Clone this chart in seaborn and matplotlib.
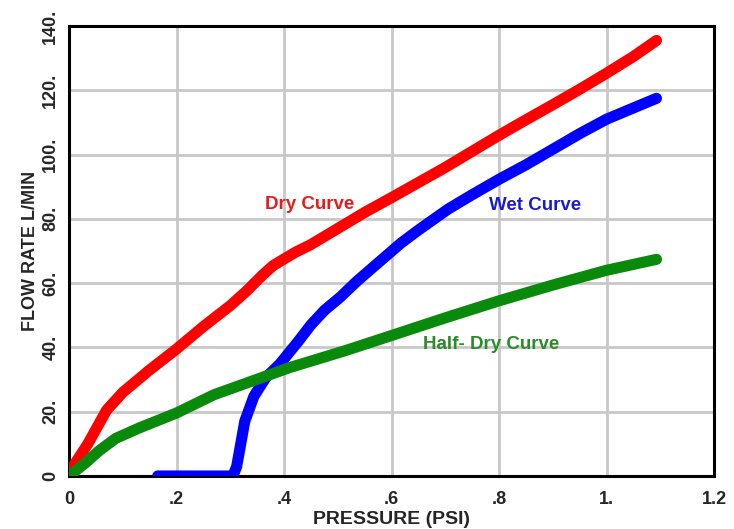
import matplotlib
matplotlib.use("Agg")
import matplotlib.pyplot as plt
import seaborn as sns
import pandas as pd

# ---- data ----
dry_x = [0.0, 0.035, 0.07, 0.10, 0.15, 0.20, 0.25, 0.30, 0.33, 0.36, 0.38, 0.42, 0.45, 0.50, 0.55, 0.60, 0.65,
         0.70, 0.75, 0.80, 0.85, 0.90, 0.95, 1.00, 1.05, 1.093]
dry_y = [1.0, 10.0, 20.5, 26.0, 33.0, 39.5, 46.5, 53.0, 57.5, 62.5, 65.5, 69.5, 72.0, 77.0, 82.0, 86.6, 91.3,
         96.0, 101.0, 106.0, 110.8, 115.5, 120.3, 125.3, 130.5, 135.5]

wet_x = [0.165, 0.305, 0.312, 0.318, 0.327, 0.344, 0.366, 0.392, 0.427, 0.45, 0.475, 0.505, 0.535, 0.566,
         0.618, 0.65, 0.705, 0.75, 0.801, 0.85, 0.914, 0.95, 1.00, 1.05, 1.093]
wet_y = [0.0, 0.0, 3.0, 8.6, 17.0, 24.8, 30.6, 34.8, 42.0, 47.0, 51.5, 55.7, 60.5, 65.0,
         72.5, 76.5, 83.0, 87.5, 92.4, 96.8, 103.0, 106.5, 111.0, 114.5, 117.5]

half_x = [0.0, 0.03, 0.057, 0.087, 0.13, 0.20, 0.27, 0.34, 0.41, 0.514, 0.60, 0.70, 0.80, 0.90, 1.00, 1.093]
half_y = [0.0, 4.0, 8.0, 11.7, 14.9, 19.6, 25.3, 29.5, 33.7, 39.0, 43.7, 49.2, 54.5, 59.4, 64.0, 67.4]

x_ticks = [0, 0.2, 0.4, 0.6, 0.8, 1.0, 1.2]
x_tick_labels = ["0", ".2", ".4", ".6", ".8", "1.", "1.2"]
y_ticks = [0, 20, 40, 60, 80, 100, 120, 140]
y_tick_labels = ["0", "20.", "40.", "60.", "80.", "100.", "120.", "140."]

curve_names = ["Dry Curve", "Wet Curve", "Half- Dry Curve"]
label_x = [0.448, 0.868, 0.786]
label_y = [84.5, 84.3, 40.8]

sns.set_style("white")
plt.rcParams["font.family"] = ["Liberation Sans", "DejaVu Sans"]

fig = plt.figure(figsize=(7.34, 5.29), dpi=100)
ax = fig.add_axes([69 / 734, 1 - 476 / 529, (714 - 69) / 734, (476 - 26) / 529])

df = pd.concat([
    pd.DataFrame({"x": dry_x, "y": dry_y, "curve": curve_names[0]}),
    pd.DataFrame({"x": wet_x, "y": wet_y, "curve": curve_names[1]}),
    pd.DataFrame({"x": half_x, "y": half_y, "curve": curve_names[2]}),
])
line_colors = {"Dry Curve": "#ff0000", "Wet Curve": "#0000ff", "Half- Dry Curve": "#0a8a0a"}
text_colors = ["#e51c1c", "#1c1ccf", "#2b8a2b"]

for name in curve_names:
    sub = df[df["curve"] == name]
    sns.lineplot(data=sub, x="x", y="y", ax=ax, color=line_colors[name], linewidth=8,
                 estimator=None, sort=False, solid_capstyle="round", solid_joinstyle="round",
                 zorder=3)

for name, lx, ly, c in zip(curve_names, label_x, label_y, text_colors):
    ax.text(lx, ly, name, color=c, fontsize=13.5, fontweight="bold", ha="center", va="center", zorder=4)

ax.set_xlim(0, 1.2)
ax.set_ylim(0, 140)
ax.set_xticks(x_ticks)
ax.set_xticklabels(x_tick_labels, fontsize=13, fontweight="bold")
ax.set_yticks(y_ticks)
ax.set_yticklabels(y_tick_labels, fontsize=13, fontweight="bold", rotation=90, va="center")
ax.grid(True, color="#c8c8c8", linewidth=2.0, zorder=0)
ax.set_axisbelow(True)
for sp in ax.spines.values():
    sp.set_visible(True)
    sp.set_color("black")
    sp.set_linewidth(2.2)
ax.tick_params(axis="both", direction="out", length=5, width=2, color="black")
ax.tick_params(axis="x", pad=6)
ax.tick_params(axis="y", pad=2)
ax.set_xlabel("PRESSURE (PSI)", fontsize=14, fontweight="bold", labelpad=2)
ax.set_ylabel("FLOW RATE L/MIN", fontsize=13, fontweight="bold", labelpad=2)
if ax.get_legend():
    ax.get_legend().remove()

fig.savefig("out.png", dpi=100)
